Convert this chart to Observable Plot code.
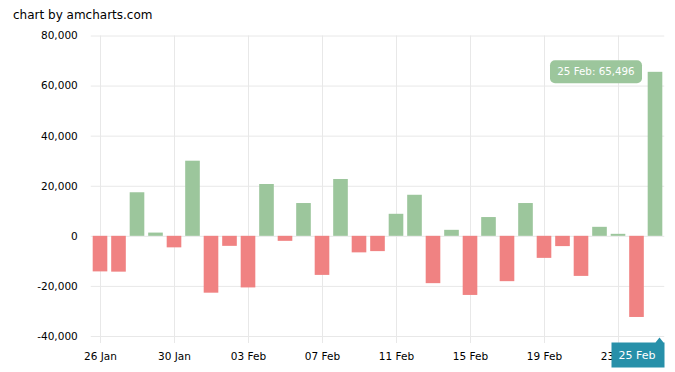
<!DOCTYPE html>
<html>
<head>
<meta charset="utf-8">
<script src="https://cdn.jsdelivr.net/npm/d3@7"></script>
<script src="https://cdn.jsdelivr.net/npm/@observablehq/plot@0.6"></script>
<style>
  html, body { margin: 0; padding: 0; background: #fff; }
  #chart { position: relative; width: 675px; height: 372px; }
  svg { display: block; }
</style>
</head>
<body>
<div id="chart"></div>
<script>
// ---- data ----
const dates = ["26 Jan","27 Jan","28 Jan","29 Jan","30 Jan","31 Jan",
  "01 Feb","02 Feb","03 Feb","04 Feb","05 Feb","06 Feb","07 Feb","08 Feb","09 Feb","10 Feb",
  "11 Feb","12 Feb","13 Feb","14 Feb","15 Feb","16 Feb","17 Feb","18 Feb","19 Feb","20 Feb",
  "21 Feb","22 Feb","23 Feb","24 Feb","25 Feb"];
const values = [-14200, -14300, 17400, 1300, -4600, 30000,
  -22700, -4000, -20600, 20700, -2000, 13100, -15600, 22700, -6600, -6100,
  8800, 16400, -18900, 2400, -23600, 7500, -18100, 13100, -8800, -4100,
  -16000, 3600, 800, -32400, 65496];
const xTicks = ["26 Jan","30 Jan","03 Feb","07 Feb","11 Feb","15 Feb","19 Feb","23 Feb"];
const yTicks = [-40000, -20000, 0, 20000, 40000, 60000, 80000];
const hoverDate = "25 Feb";

const green = "#9cc69c";
const red = "#f08282";
const grid = "#e8e8e8";
const teal = "#2790a9";

const data = dates.map((d, i) => ({date: d, value: values[i]}));
const fmt = v => v.toLocaleString("en-US");

const chart = Plot.plot({
  width: 675,
  height: 372,
  marginTop: 35.5,
  marginBottom: 36,
  marginLeft: 90.75,
  marginRight: 10.75,
  style: {fontFamily: "DejaVu Sans", fontSize: "10.5px", color: "#000", background: "#fff"},
  x: {type: "band", domain: dates, paddingInner: 0.21, paddingOuter: 0.105, round: false},
  y: {domain: [-40000, 80000]},
  color: {type: "identity"},
  marks: [
    Plot.gridY({ticks: yTicks, stroke: grid, strokeOpacity: 1}),
    Plot.gridX({ticks: xTicks, stroke: grid, strokeOpacity: 1}),
    Plot.barY(data, {x: "date", y: "value", fill: d => d.value >= 0 ? green : red}),
    Plot.axisY({ticks: yTicks, tickSize: 0, tickPadding: 13.5, tickFormat: fmt, label: null}),
    Plot.axisX({ticks: xTicks, tickSize: 7, tickPadding: 9, stroke: grid, strokeOpacity: 1, label: null})
  ]
});

document.getElementById("chart").appendChild(chart);

// overlays positioned through the plot's own scales
const svg = d3.select(chart);
svg.append("text")
  .attr("x", 13).attr("y", 19.3)
  .attr("text-anchor", "start")
  .attr("font-family", "DejaVu Sans").attr("font-size", "12px")
  .attr("fill", "#000")
  .text("chart by amcharts.com");

const sx = chart.scale("x");
const sy = chart.scale("y");
const hv = values[dates.indexOf(hoverDate)];
const cx = sx.apply(hoverDate) + sx.bandwidth / 2;
const cy = sy.apply(hv);

// balloon
const bw = 92, bh = 23;
const bx = cx - 13 - bw, by = cy - bh / 2;
svg.append("rect")
  .attr("x", bx).attr("y", by).attr("width", bw).attr("height", bh)
  .attr("rx", 5).attr("fill", green);
svg.append("text")
  .attr("x", bx + bw / 2).attr("y", by + bh / 2)
  .attr("dy", "0.35em").attr("text-anchor", "middle")
  .attr("font-family", "DejaVu Sans").attr("font-size", "10.3px")
  .attr("fill", "#fff")
  .text(`${hoverDate}: ${fmt(hv)}`);

// cursor category label
const yb = sy.apply(-40000);
const lx1 = cx - 43.5, lx2 = cx + 9.5, ly1 = yb + 6.5, ly2 = yb + 31.5;
const px = cx + 4.5;
svg.append("path")
  .attr("d", `M${lx1},${ly1}H${px - 4}L${px},${ly1 - 5}L${px + 4},${ly1}H${lx2}V${ly2}H${lx1}Z`)
  .attr("fill", teal);
svg.append("text")
  .attr("x", (lx1 + lx2) / 2 - 1).attr("y", (ly1 + ly2) / 2)
  .attr("dy", "0.35em").attr("text-anchor", "middle")
  .attr("font-family", "DejaVu Sans").attr("font-size", "11px")
  .attr("fill", "#fff")
  .text(hoverDate);
</script>
</body>
</html>
